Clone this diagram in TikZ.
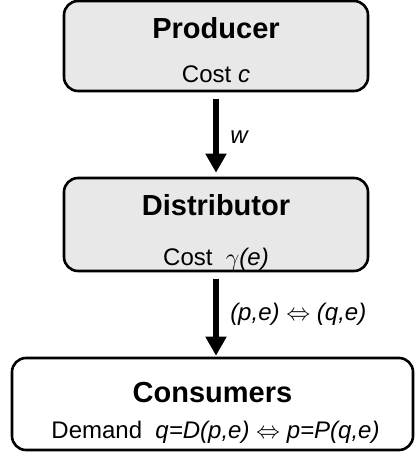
\documentclass[tikz,border=0pt]{standalone}
\usepackage{fontspec}
\setmainfont{Liberation Sans}
\usetikzlibrary{arrows.meta}
\definecolor{boxgray}{RGB}{232,232,232}

\begin{document}
\begin{tikzpicture}[x=0.5pt, y=-0.5pt,
        box/.style = {draw, line width=1.3pt, rounded corners=7pt, inner sep=0pt},
        title/.style = {font=\fontsize{14.5}{17}\selectfont\bfseries, anchor=base, inner sep=0pt},
        sub/.style = {font=\fontsize{12}{14}\selectfont, anchor=base, inner sep=0pt},
        flow/.style = {line width=3.25pt, -{Triangle[width=10pt,length=9.5pt]}, shorten <=3.5pt},
        lab/.style = {font=\fontsize{12}{14}\selectfont, anchor=west, inner sep=0pt, xshift=5.5pt}]
        \useasboundingbox (0,0) rectangle (414,454);

        % the three stages
        \node[box, fill=boxgray, minimum width=152pt, minimum height=45pt] (prod) at (216,46) {};
        \node[box, fill=boxgray, minimum width=152pt, minimum height=46.5pt] (dist) at (216,224.5) {};
        \node[box, fill=white, minimum width=200.5pt, minimum height=46pt] (cons) at (212.5,404) {};

        \node[title] (prodT) at ([yshift=-19.5pt]prod.north) {Producer};
        \node[sub] (prodC) at ([yshift=5pt]prod.south) {Cost \textit{c}};
        \node[title] (distT) at ([yshift=-19.5pt]dist.north) {Distributor};
        \node[sub] (distC) at ([yshift=3.5pt]dist.south) {Cost\ \ $\gamma$\textit{(e)}};
        \node[title] (consT) at ([yshift=-23pt]cons.north) {Consumers};
        \node[sub] (consC) at ([xshift=1.5pt,yshift=6.5pt]cons.south) {Demand\ \ \textit{q=D(p,e)} $\Leftrightarrow$ \textit{p=P(q,e)}};

        % flows between them
        \draw[flow, shorten >=2pt] (prod) -- (dist) node[lab, midway, yshift=-1.5pt] (wLab) {\textit{w}};
        \draw[flow, shorten >=0.5pt] (dist) -- (dist.south |- cons.north) node[lab, midway] (peLab) {\textit{(p,e)} $\Leftrightarrow$ \textit{(q,e)}};
    \end{tikzpicture}
\end{document}
